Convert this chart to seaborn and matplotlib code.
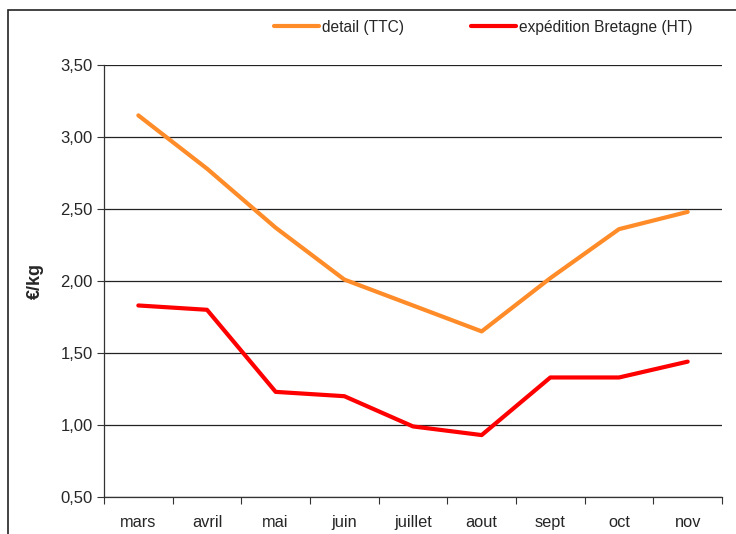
import pandas as pd
import matplotlib.pyplot as plt
import seaborn as sns
from matplotlib.patches import Rectangle

# données (€/kg)
mois = ['mars', 'avril', 'mai', 'juin', 'juillet', 'aout', 'sept', 'oct', 'nov']
detail_ttc = [3.15, 2.78, 2.37, 2.01, 1.83, 1.65, 2.02, 2.36, 2.48]
expedition_ht = [1.83, 1.80, 1.23, 1.20, 0.99, 0.93, 1.33, 1.33, 1.44]
series = ['detail (TTC)', 'expédition Bretagne (HT)']
couleurs = ['#FF8C28', '#FF0000']

df = pd.DataFrame({
    'mois': mois * 2,
    'pos': list(range(len(mois))) * 2,
    'prix': detail_ttc + expedition_ht,
    'serie': [series[0]] * len(mois) + [series[1]] * len(mois),
})

sns.set_theme(style='white')
plt.rcParams['font.family'] = ['Liberation Sans', 'DejaVu Sans']

fig = plt.figure(figsize=(7.36, 5.34), dpi=100)
ax = fig.add_axes([0.1413, 0.0693, 0.8397, 0.8090])

sns.lineplot(data=df, x='pos', y='prix', hue='serie', palette=couleurs,
             linewidth=3, ax=ax, sort=False)

ax.set_xlim(-0.5, len(mois) - 0.5)
ax.set_ylim(0.5, 3.5)
ax.set_yticks([0.5, 1.0, 1.5, 2.0, 2.5, 3.0, 3.5])
ax.set_yticklabels([f'{v:.2f}'.replace('.', ',') for v in ax.get_yticks()], fontsize=12)
ax.set_xticks(range(len(mois)))
ax.set_xticklabels(mois, fontsize=11.8)
ax.set_xticks([i - 0.5 for i in range(len(mois) + 1)], minor=True)
ax.tick_params(axis='x', which='major', length=0, pad=13)
ax.tick_params(axis='x', which='minor', length=5, width=0.8, color='#333333', bottom=True)
ax.tick_params(axis='y', length=5, width=0.8, color='#333333', left=True, pad=3)

ax.yaxis.grid(True, color='#222222', linewidth=0.9)
ax.set_axisbelow(True)
for s in ['top', 'right']:
    ax.spines[s].set_visible(False)
for s in ['left', 'bottom']:
    ax.spines[s].set_color('#333333')
    ax.spines[s].set_linewidth(0.9)

ax.set_xlabel('')
ax.set_ylabel('€/kg', fontsize=13, fontweight='bold', labelpad=12)

ax.legend(loc='center', bbox_to_anchor=(0.614, 1.0875), ncol=2, frameon=False,
          fontsize=11.2, handlelength=2.9, handletextpad=0.2, columnspacing=4.3)

# cadre extérieur du graphique
fig.patches.append(Rectangle((8 / 736, -0.05), 1.0, 1 - 10 / 534 + 0.05,
                             transform=fig.transFigure, fill=False,
                             edgecolor='#222222', linewidth=1.2))

fig.savefig('out.png', dpi=100)
